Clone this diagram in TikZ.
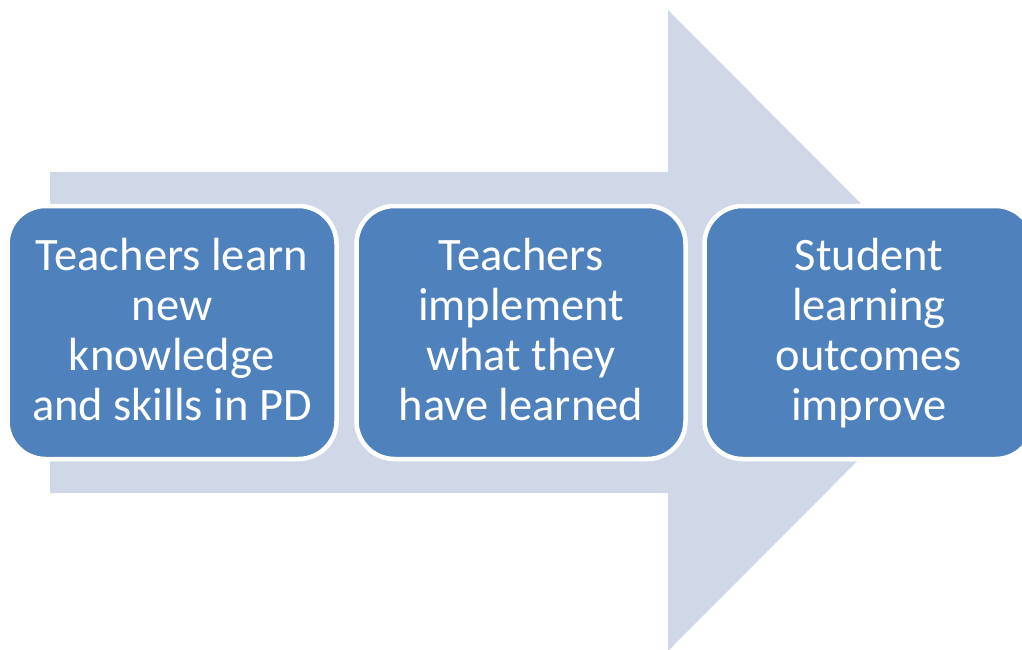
\documentclass[tikz,border=0pt]{standalone}
\usepackage{fontspec}
\setmainfont{Carlito}
\definecolor{arrowfill}{HTML}{D0D8E8}
\definecolor{boxfill}{HTML}{4F81BD}
\newcommand\mytopstrut{\rule{0pt}{35pt}}
\newcommand\mybotstrut{\rule[-10pt]{0pt}{10pt}}
\begin{document}
\begin{tikzpicture}[x=1pt,y=-1pt,
  stepbox/.style={rectangle, fill=boxfill, draw=white, line width=4.5pt,
    rounded corners=38pt, minimum width=329pt, minimum height=253pt,
    align=center, text=white, inner sep=0pt,
    font=\fontsize{46.5}{50}\selectfont}]
\useasboundingbox (0,0) rectangle (1022,650);
\clip (0,0) rectangle (1022,650);
% big background arrow
\fill[arrowfill] (50,172) -- (668,172) -- (668,10) -- (987.5,330.5)
  -- (668,651) -- (668,493) -- (50,493) -- cycle;
\node[stepbox] (s1) at (172,332.5) {\mytopstrut Teachers learn\\new\\knowledge\\and skills in PD\mybotstrut};
\node[stepbox] (s2) at (521,332.5) {\mytopstrut Teachers\\implement\\what they\\have learned\mybotstrut};
\node[stepbox] (s3) at (869,332.5) {\mytopstrut Student\\learning\\outcomes\\improve\mybotstrut};
\end{tikzpicture}
\end{document}
